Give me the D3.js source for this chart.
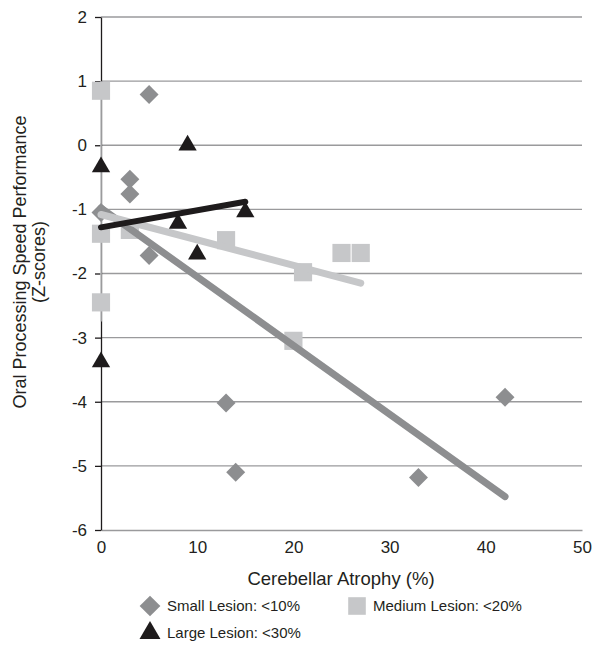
<!DOCTYPE html>
<html>
<head>
<meta charset="utf-8">
<script src="https://cdn.jsdelivr.net/npm/d3@7"></script>
<style>
  body { margin: 0; background: #fff; }
  svg { display: block; }
  text { font-family: "Liberation Sans", Arial, Helvetica, sans-serif; fill: #231f20; }
</style>
</head>
<body>
<svg id="chart" width="594" height="647"></svg>
<script>
// ---- data ----
const smallX = [5, 3, 3, 5, 0, 13, 14, 33, 42];
const smallY = [0.79, -0.53, -0.76, -1.72, -1.05, -4.02, -5.1, -5.18, -3.93];
const mediumX = [0, 0, 0, 3, 13, 21, 20, 25, 27];
const mediumY = [0.85, -1.38, -2.45, -1.32, -1.48, -1.98, -3.05, -1.68, -1.68];
const largeX = [0, 9, 0, 8, 10, 15];
const largeY = [-0.34, 0.0, -3.38, -1.22, -1.7, -1.04];
// trend lines (end points)
const smallTrend = [[0, -0.98], [42, -5.48]];
const mediumTrend = [[0, -1.08], [27, -2.15]];
const largeTrend = [[0, -1.28], [15, -0.88]];
const xTicks = [0, 10, 20, 30, 40, 50];
const yTicks = [2, 1, 0, -1, -2, -3, -4, -5, -6];
const legendLabels = ["Small Lesion: <10%", "Medium Lesion: <20%", "Large Lesion: <30%"];
// light segment of the y axis (value range)
const yAxisLightSpan = [1, -2.75];

const colSmall = "#8d8e90", colMedium = "#c6c7c9", colLarge = "#1e1b1c";
const FONT = "Liberation Sans, Arial, sans-serif";

const svg = d3.select("#chart");
const x = d3.scaleLinear().domain([0, 50]).range([101, 582]);
const y = d3.scaleLinear().domain([-6, 2]).range([530, 17]);

// gridlines
svg.append("g").selectAll("line").data(yTicks.filter(d => d > -6)).join("line")
  .attr("x1", x(0)).attr("x2", x(50))
  .attr("y1", d => y(d)).attr("y2", d => y(d))
  .attr("stroke", "#9a9a9c").attr("stroke-width", 1.3);

// x axis (grey)
const xAxis = svg.append("g").attr("transform", `translate(0,${y(-6)})`)
  .call(d3.axisBottom(x).tickValues(xTicks).tickSize(0).tickPadding(11).tickFormat(d => String(d)));
xAxis.select(".domain").attr("stroke", "#9a9a9c").attr("stroke-width", 1.3);
xAxis.selectAll("text").attr("font-size", 17).attr("fill", "#231f20").style("font-family", FONT);

// y axis (black)
const yAxis = svg.append("g").attr("transform", `translate(${x(0)},0)`)
  .call(d3.axisLeft(y).tickValues(yTicks).tickSize(6).tickPadding(8).tickSizeOuter(0).tickFormat(d => String(d)));
yAxis.select(".domain").attr("stroke", "#1e1b1c").attr("stroke-width", 1.3);
yAxis.selectAll(".tick line").attr("stroke", "#1e1b1c").attr("stroke-width", 1.3);
yAxis.selectAll("text").attr("font-size", 17).attr("fill", "#231f20").style("font-family", FONT);
svg.append("line")
  .attr("x1", x(0)).attr("x2", x(0))
  .attr("y1", y(yAxisLightSpan[0])).attr("y2", y(yAxisLightSpan[1]))
  .attr("stroke", "#c6c7c9").attr("stroke-width", 1.5);

// axis titles
svg.append("text").attr("x", 341).attr("y", 585).attr("text-anchor", "middle")
  .attr("font-size", 18.5).text("Cerebellar Atrophy (%)");
const yt = svg.append("text").attr("transform", "translate(26,262) rotate(-90)")
  .attr("text-anchor", "middle").attr("font-size", 18);
yt.append("tspan").attr("x", 0).attr("dy", 0).text("Oral Processing Speed Performance");
yt.append("tspan").attr("x", 0).attr("dy", 19).text("(Z-scores)");

// symbols
const diamond = d3.symbol().type(d3.symbolSquare).size(180);
const square = d3.symbol().type(d3.symbolSquare).size(330);
const tri = d3.symbol().type(d3.symbolTriangle).size(145);
const diamondL = d3.symbol().type(d3.symbolSquare).size(215);
const squareL = d3.symbol().type(d3.symbolSquare).size(310);
const triL = d3.symbol().type(d3.symbolTriangle).size(190);

const smallData = smallX.map((v, i) => ({ x: v, y: smallY[i] }));
const mediumData = mediumX.map((v, i) => ({ x: v, y: mediumY[i] }));
const largeData = largeX.map((v, i) => ({ x: v, y: largeY[i] }));

const line = d3.line().x(d => x(d[0])).y(d => y(d[1]));

// points
svg.append("g").selectAll("path").data(smallData).join("path")
  .attr("d", diamond)
  .attr("transform", d => `translate(${x(d.x)},${y(d.y)}) rotate(45)`)
  .attr("fill", colSmall);
svg.append("g").selectAll("path").data(mediumData).join("path")
  .attr("d", square)
  .attr("transform", d => `translate(${x(d.x)},${y(d.y)})`)
  .attr("fill", colMedium);
svg.append("g").selectAll("path").data(largeData).join("path")
  .attr("d", tri)
  .attr("transform", d => `translate(${x(d.x)},${y(d.y)})`)
  .attr("fill", colLarge);

// trend lines
svg.append("path").attr("d", line(smallTrend)).attr("stroke", colSmall)
  .attr("stroke-width", 7).attr("stroke-linecap", "round").attr("fill", "none");
svg.append("path").attr("d", line(mediumTrend)).attr("stroke", colMedium)
  .attr("stroke-width", 7).attr("stroke-linecap", "round").attr("fill", "none");
svg.append("path").attr("d", line(largeTrend)).attr("stroke", colLarge)
  .attr("stroke-width", 6).attr("stroke-linecap", "round").attr("fill", "none");

// legend
const leg = svg.append("g");
const legItems = [
  { sym: diamondL, rot: 45, col: colSmall, lx: 150, ly: 606, tx: 167, label: legendLabels[0] },
  { sym: squareL, rot: 0, col: colMedium, lx: 357, ly: 606, tx: 373, label: legendLabels[1] },
  { sym: triL, rot: 0, col: colLarge, lx: 150, ly: 633, tx: 167, label: legendLabels[2] }
];
legItems.forEach(it => {
  leg.append("path").attr("d", it.sym)
    .attr("transform", `translate(${it.lx},${it.ly}) rotate(${it.rot})`)
    .attr("fill", it.col);
  leg.append("text").attr("x", it.tx).attr("y", it.ly + 5)
    .attr("font-size", 15).text(it.label);
});
</script>
</body>
</html>
